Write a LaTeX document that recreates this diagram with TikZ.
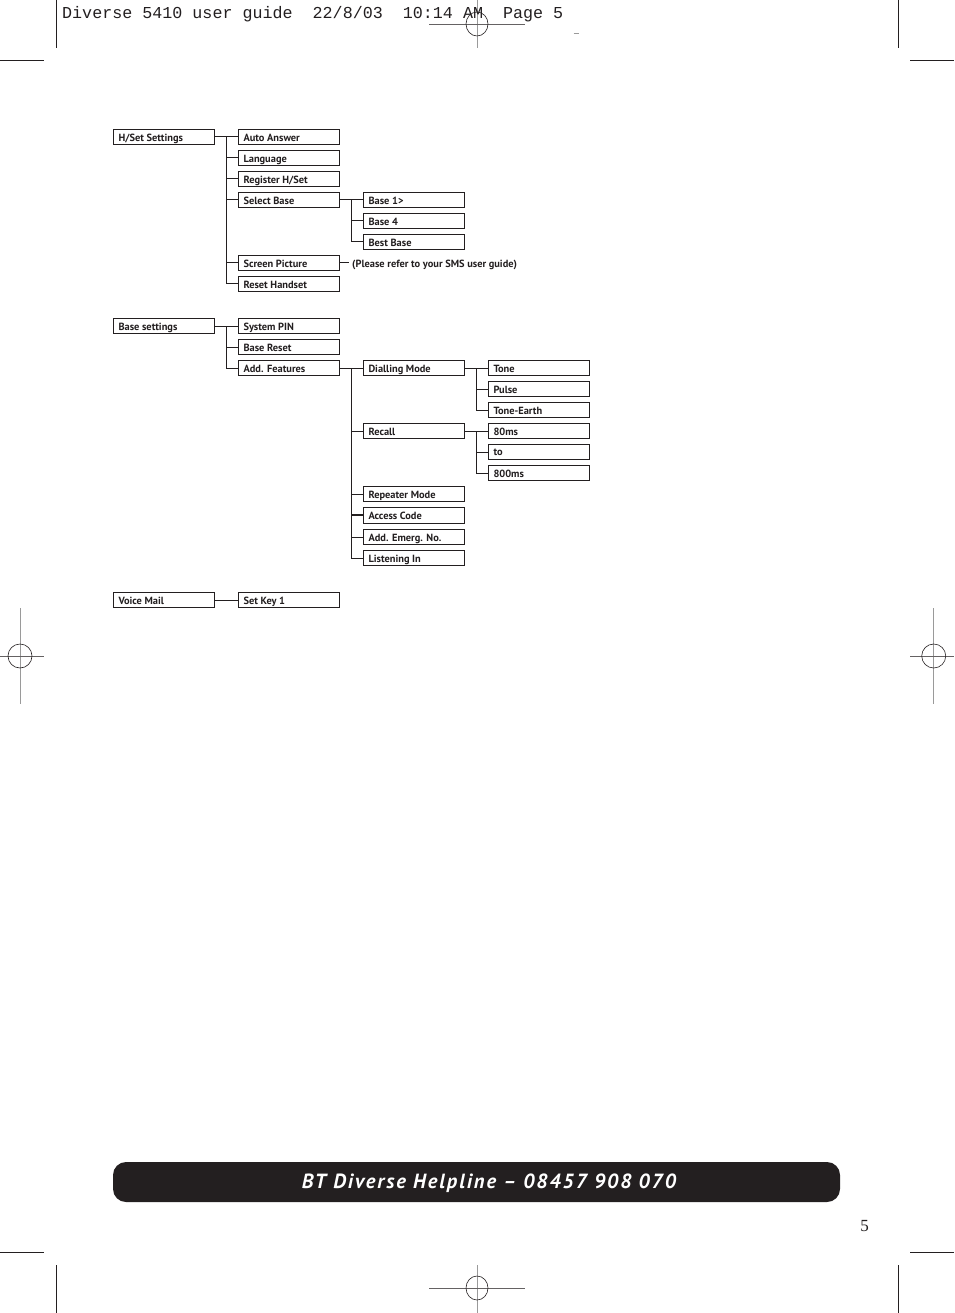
\documentclass[tikz,border=0pt]{standalone}
\usepackage{fontspec}
\setmainfont{Fira Sans}
\newfontfamily\boxfont{PT Sans}[Scale=1]
\newfontfamily\bannerfont{PT Sans}[LetterSpace=9.5]
\newfontfamily\headfont{Liberation Mono}
\newfontfamily\pagefont{Liberation Serif}
\definecolor{ink}{HTML}{231F20}
\definecolor{mark}{HTML}{9A9A9A}
\tikzset{
 x=1pt,y=-1pt,
 itembox/.style={draw=ink,line width=0.9pt,fill=white,minimum height=15.6pt,inner sep=0pt,outer sep=0pt,text=ink,yshift=0.05pt,
   font=\boxfont\fontsize{10.4}{12}\selectfont\bfseries,align=left,text depth=0pt},
 wideA/.style={itembox,minimum width=101pt},
 plain/.style={line width=0.9pt,draw=ink},
 heavy/.style={line width=2pt,draw=ink},
 crop/.style={line width=0.7pt,draw=ink},
 regv/.style={line width=0.9pt,draw=mark},
 regh/.style={line width=0.7pt,draw=ink!70},
 regc/.style={line width=0.6pt,draw=ink},
}
\newcommand{\bx}[4]{\node[wideA,anchor=west] (#1) at (#2,#3) {\makebox[101pt][l]{\hspace{5pt}\raisebox{-1.5pt}{#4}}};}
\begin{document}
\begin{tikzpicture}
\useasboundingbox (0,0) rectangle (954,1313);
% crop marks
\coordinate (c1a) at (56.6,0);\coordinate (c1b) at (56.6,48);\draw[crop] (c1a)--(c1b);
\coordinate (c2a) at (898,0);\coordinate (c2b) at (898,48);\draw[crop] (c2a)--(c2b);
\coordinate (c3a) at (0,60.5);\coordinate (c3b) at (44,60.5);\draw[crop] (c3a)--(c3b);
\coordinate (c4a) at (910,60.5);\coordinate (c4b) at (954,60.5);\draw[crop] (c4a)--(c4b);
\coordinate (c5a) at (0,1252);\coordinate (c5b) at (44,1252);\draw[crop] (c5a)--(c5b);
\coordinate (c6a) at (910,1252);\coordinate (c6b) at (954,1252);\draw[crop] (c6a)--(c6b);
\coordinate (c7a) at (56.6,1265);\coordinate (c7b) at (56.6,1313);\draw[crop] (c7a)--(c7b);
\coordinate (c8a) at (898,1265);\coordinate (c8b) at (898,1313);\draw[crop] (c8a)--(c8b);
% registration marks
\draw[regv] (477,0)--(477,48); \draw[regh] (429,24)--(525,24); \draw[regc] (477,24) ellipse (11 and 12);
\draw[regv] (477,1265)--(477,1313); \draw[regh] (429,1288)--(525,1288); \draw[regc] (477,1288) ellipse (11 and 12);
\draw[regv] (20,608)--(20,704); \draw[regh] (0,656)--(44,656); \draw[regc] (20,656) ellipse (12 and 12);
\draw[regv] (933.7,608)--(933.7,704); \draw[regh] (910,656)--(954,656); \draw[regc] (933.7,656) ellipse (12 and 12);
\draw[line width=0.5pt,draw=mark] (573.5,33)--(578.5,33);
% header
\node[anchor=base west,inner sep=0pt,text=ink,font=\headfont\fontsize{16.7}{18}\selectfont] (head) at (62,18.5) {Diverse 5410 user guide\ \ 22/8/03\ \ 10:14 AM\ \ Page 5};
% column 1
\bx{hs}{113.5}{137}{H/Set Settings}
\bx{bs}{113.5}{326}{Base settings}
\bx{vm}{113.5}{600}{Voice Mail}
% column 2
\bx{aa}{238.5}{137}{Auto Answer}
\bx{la}{238.5}{158}{Language}
\bx{rh}{238.5}{179}{Register H/Set}
\bx{sb}{238.5}{200}{Select Base}
\bx{sp}{238.5}{263}{Screen Picture}
\bx{rs}{238.5}{284}{Reset Handset}
\bx{pin}{238.5}{326}{System PIN}
\bx{br}{238.5}{347}{Base Reset}
\bx{af}{238.5}{368}{Add. Features}
\bx{sk}{238.5}{600}{Set Key 1}
% column 3
\bx{b1}{363.5}{200}{Base 1>}
\bx{b4}{363.5}{221}{Base 4}
\bx{bb}{363.5}{242}{Best Base}
\bx{dm}{363.5}{368}{Dialling Mode}
\bx{re}{363.5}{431}{Recall}
\bx{rm}{363.5}{494}{Repeater Mode}
\bx{ac}{363.5}{515.5}{Access Code}
\bx{ae}{363.5}{537}{Add. Emerg. No.}
\bx{li}{363.5}{558}{Listening In}
% column 4
\bx{to}{488.5}{368}{Tone}
\bx{pu}{488.5}{389}{Pulse}
\bx{te}{488.5}{410}{Tone-Earth}
\bx{m8}{488.5}{431}{80ms}
\bx{tt}{488.5}{452}{to}
\bx{m800}{488.5}{473}{800ms}
% note
\node[anchor=west,inner sep=0pt,text=ink,font=\boxfont\fontsize{10.4}{12}\selectfont\bfseries] (note) at (352,265) {(Please refer to your SMS user guide)};
\coordinate (noteend) at (349,263);
% connectors
\draw[plain] (hs.east)--(aa.west);
\coordinate (s1) at (226.5,137);
\draw[plain] (s1) |- (rs.west);
\foreach \n in {la,rh,sb,sp} \draw[plain] (s1 |- \n.west)--(\n.west);
\draw[plain] (sb.east)--(b1.west);
\coordinate (s2) at (351.5,200);
\draw[plain] (s2) |- (bb.west);
\draw[plain] (s2 |- b4.west)--(b4.west);
\draw[plain] (sp.east)--(noteend |- sp.east);
\draw[plain] (bs.east)--(pin.west);
\coordinate (s3) at (226.5,326);
\draw[plain] (s3) |- (af.west);
\draw[plain] (s3 |- br.west)--(br.west);
\draw[plain] (af.east)--(dm.west);
\coordinate (s4) at (351.5,368);
\draw[plain] (s4) |- (li.west);
\foreach \n in {re,rm,ae} \draw[plain] (s4 |- \n.west)--(\n.west);
\draw[heavy] (s4 |- ac.west)--(ac.west);
\draw[plain] (dm.east)--(to.west);
\coordinate (s5) at (476.5,368);
\draw[plain] (s5) |- (te.west);
\draw[plain] (s5 |- pu.west)--(pu.west);
\draw[plain] (re.east)--(m8.west);
\coordinate (s6) at (476.5,431);
\draw[plain] (s6) |- (m800.west);
\draw[plain] (s6 |- tt.west)--(tt.west);
\draw[plain] (vm.east)--(sk.west);
% banner
\node[fill=ink,rounded corners=13pt,minimum width=727pt,minimum height=40pt,inner sep=0pt,anchor=center] (banner) at (476.5,1182) {};
\node[text=white,inner sep=0pt,anchor=center,font=\bannerfont\fontsize{20.5}{24}\selectfont\bfseries\itshape] (bt) at (489,1183) {BT Diverse Helpline – 08457 908 070};
\node[anchor=center,inner sep=0pt,text=ink,font=\pagefont\fontsize{17}{18}\selectfont] (pg) at (864.5,1226) {5};
\end{tikzpicture}
\end{document}
